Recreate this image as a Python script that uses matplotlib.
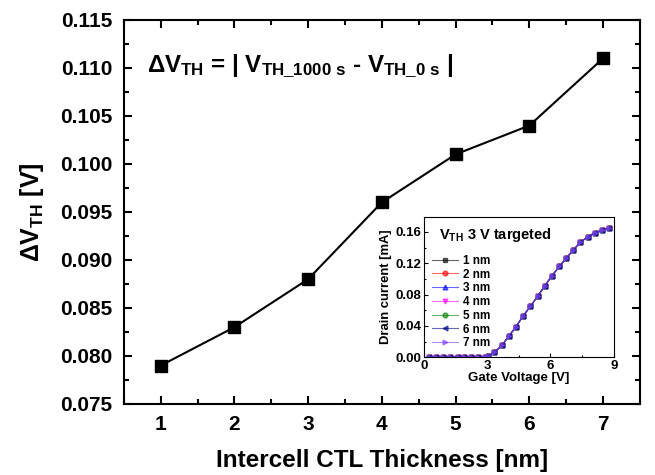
import matplotlib
matplotlib.use("Agg")
import matplotlib.pyplot as plt
from matplotlib.ticker import MultipleLocator

plt.rcParams['font.family'] = ['Liberation Sans', 'DejaVu Sans']
plt.rcParams['font.weight'] = 'bold'
plt.rcParams['mathtext.fontset'] = 'custom'
plt.rcParams['mathtext.rm'] = 'Liberation Sans:bold'
plt.rcParams['mathtext.bf'] = 'Liberation Sans:bold'
plt.rcParams['mathtext.it'] = 'Liberation Sans:bold'

# main data
thickness = [1, 2, 3, 4, 5, 6, 7]
delta_vth = [0.079, 0.083, 0.088, 0.096, 0.101, 0.104, 0.111]

# inset data (all seven curves overlap)
gate_v = [0.24, 0.58, 0.92, 1.26, 1.6, 1.92, 2.24, 2.58, 2.92, 3.05, 3.35, 3.7, 4.03,
          4.37, 4.69, 5.05, 5.4, 5.73, 6.07, 6.43, 6.76, 7.09, 7.42, 7.79, 8.1, 8.43, 8.77]
drain_i = [0.0, 0.0, 0.0, 0.0, 0.0, 0.0, 0.0, 0.0, 0.0, 0.001, 0.0064, 0.015, 0.027,
           0.039, 0.052, 0.065, 0.078, 0.091, 0.104, 0.116, 0.127, 0.137, 0.147,
           0.154, 0.159, 0.162, 0.165]
inset_labels = ['1 nm', '2 nm', '3 nm', '4 nm', '5 nm', '6 nm', '7 nm']
inset_colors = ['black', 'red', 'blue', 'magenta', 'green', 'navy', '#8040ff']
inset_markers = ['s', 'o', '^', 'v', 'o', '<', '>']

fig = plt.figure(figsize=(6.55, 4.75), dpi=100)
ax = fig.add_axes([0.189, 0.1495, 0.788, 0.8085])

ax.plot(thickness, delta_vth, color='black', lw=1.5, marker='s', markersize=8.5)
ax.set_xlim(0.5, 7.5)
ax.set_ylim(0.075, 0.115)
ax.xaxis.set_major_locator(MultipleLocator(1))
ax.xaxis.set_minor_locator(MultipleLocator(0.5))
ax.yaxis.set_major_locator(MultipleLocator(0.005))
ax.yaxis.set_minor_locator(MultipleLocator(0.0025))
ax.yaxis.set_major_formatter(plt.FormatStrFormatter('%.3f'))
ax.tick_params(which='both', direction='in', top=True, right=True, width=1.5)
ax.tick_params(which='major', length=6, labelsize=15, pad=8)
ax.tick_params(which='minor', length=3.5)
for s in ax.spines.values():
    s.set_linewidth(1.5)
ax.set_xlabel('Intercell CTL Thickness [nm]', fontsize=17.5, fontweight='bold', labelpad=11)
ax.set_ylabel(r'$\Delta$V$_{\mathregular{TH}}$ [V]', fontsize=18, fontweight='bold', labelpad=10)
ax.text(0.045, 0.88, r'$\Delta$V$_{\mathregular{TH}}$ = | V$_{\mathregular{TH\_1000\ s}}$ - V$_{\mathregular{TH\_0\ s}}$ |',
        transform=ax.transAxes, fontsize=17.4, fontweight='bold', va='center')

# inset
ins = fig.add_axes([0.647, 0.248, 0.29, 0.295])
for lab, c, m in zip(inset_labels, inset_colors, inset_markers):
    ins.plot(gate_v, drain_i, color=c, lw=0.8, alpha=0.6, marker=m, markersize=3.5,
             markerfacecolor=c, markeredgecolor=c, label=lab)
ins.set_xlim(0, 9)
ins.set_ylim(0, 0.179)
ins.xaxis.set_major_locator(MultipleLocator(3))
ins.xaxis.set_minor_locator(MultipleLocator(1.5))
ins.yaxis.set_major_locator(MultipleLocator(0.04))
ins.yaxis.set_minor_locator(MultipleLocator(0.02))
ins.yaxis.set_major_formatter(plt.FormatStrFormatter('%.2f'))
ins.tick_params(which='both', direction='in', width=0.8, labelsize=9.5, pad=2)
ins.tick_params(which='major', length=3)
ins.tick_params(which='minor', length=1.5)
ins.set_xlabel('Gate Voltage [V]', fontsize=9.5, fontweight='bold', labelpad=0)
ins.set_ylabel('Drain current [mA]', fontsize=9.4, fontweight='bold', labelpad=2)
ins.text(0.08, 0.87, r'V$_{\mathregular{TH}}$ 3 V targeted', transform=ins.transAxes,
         fontsize=10.5, fontweight='bold', va='center')
ins.legend(loc='upper left', bbox_to_anchor=(0.0, 0.79), frameon=False, fontsize=8.5,
           handlelength=2.2, labelspacing=0.15, borderaxespad=0.3, handletextpad=0.4)

fig.savefig('out.png', dpi=100)
